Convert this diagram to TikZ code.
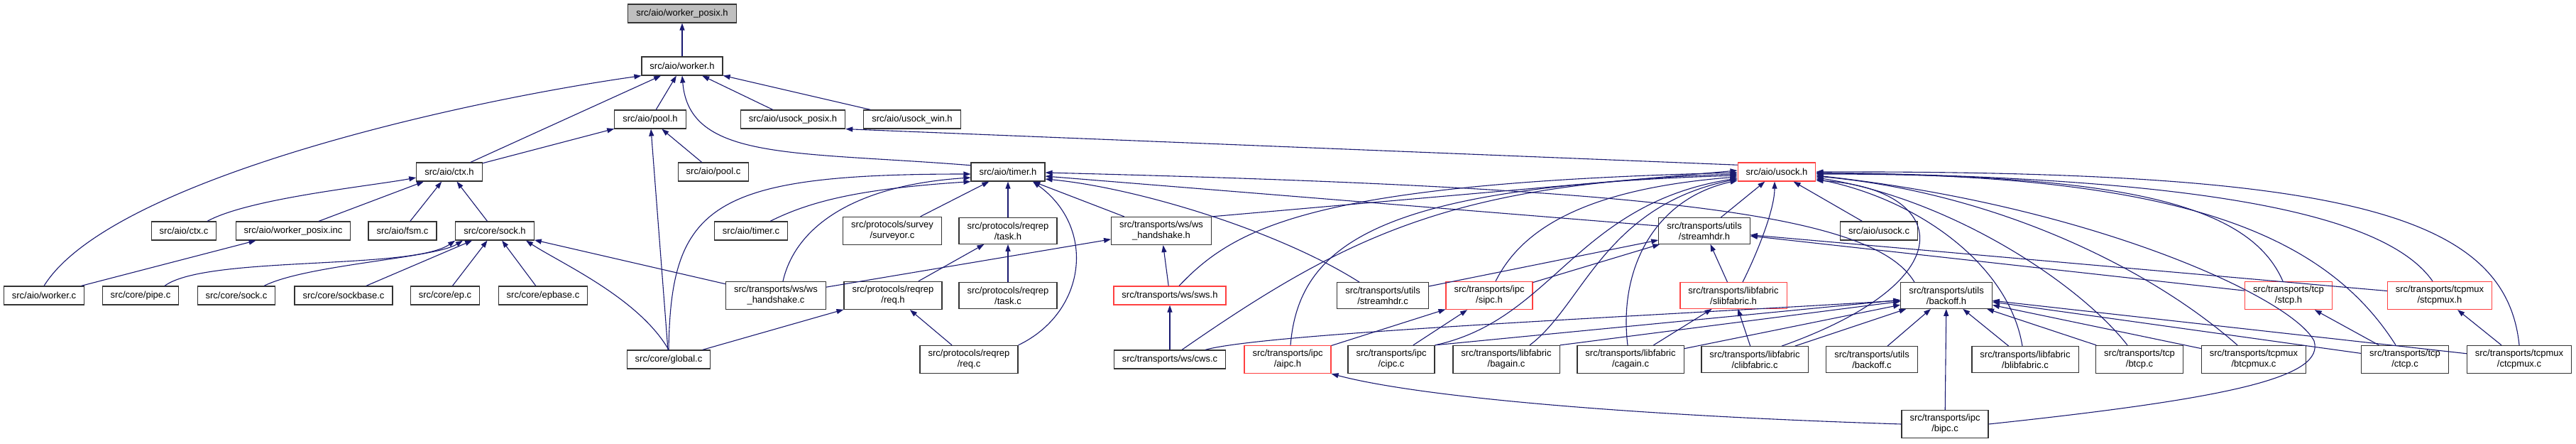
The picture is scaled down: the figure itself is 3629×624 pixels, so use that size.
\documentclass[tikz,border=0pt]{standalone}
\usepackage{fontspec}
\setmainfont{Liberation Sans}
\usetikzlibrary{arrows.meta}
\definecolor{edgeblue}{RGB}{25,25,112}
\definecolor{boxred}{RGB}{255,64,64}
\definecolor{rootgray}{RGB}{191,191,191}

\begin{document}
\begin{tikzpicture}[x=1pt,y=-1pt,
  filebox/.style={draw=black!80, line width=1.2pt, fill=white, inner xsep=11.5pt, inner ysep=6pt,
    minimum height=26pt, align=center, font=\fontsize{13}{15}\selectfont},
  redbox/.style={filebox, draw=boxred},
  rootbox/.style={filebox, fill=rootgray},
  incl/.style={edgeblue, line width=1.1pt, -{Triangle[length=10pt,width=7pt]}}]
  \useasboundingbox (0,0) rectangle (3629,624);

  %% Row 0 and 1
  \node[rootbox] (wposixh) at (961,19) {src/aio/worker\_posix.h};
  \node[filebox] (workerh) at (961,93) {src/aio/worker.h};
  %% Row 2
  \node[filebox] (poolh) at (916,168) {src/aio/pool.h};
  \node[filebox] (usockposixh) at (1117,168) {src/aio/usock\_posix.h};
  \node[filebox] (usockwinh) at (1285,168) {src/aio/usock\_win.h};
  %% Row 3
  \node[filebox] (ctxh) at (633,242) {src/aio/ctx.h};
  \node[filebox] (poolc) at (1005,242) {src/aio/pool.c};
  \node[filebox] (timerh) at (1420,242) {src/aio/timer.h};
  \node[redbox] (usockh) at (2503,242) {src/aio/usock.h};
  %% Row 4
  \node[filebox] (ctxc) at (259,325) {src/aio/ctx.c};
  \node[filebox] (wposixinc) at (413,325) {src/aio/worker\_posix.inc};
  \node[filebox] (fsmc) at (567,325) {src/aio/fsm.c};
  \node[filebox] (sockh) at (697,325) {src/core/sock.h};
  \node[filebox] (timerc) at (1058,325) {src/aio/timer.c};
  \node[filebox] (surveyorc) at (1257,325) {src/protocols/survey\\/surveyor.c};
  \node[filebox] (taskh) at (1420,325) {src/protocols/reqrep\\/task.h};
  \node[filebox] (wshandshakeh) at (1636,325) {src/transports/ws/ws\\\_handshake.h};
  \node[filebox] (streamhdrh) at (2401,325) {src/transports/utils\\/streamhdr.h};
  \node[filebox] (usockc) at (2647,325) {src/aio/usock.c};
  %% Row 5
  \node[filebox] (workerc) at (62,416) {src/aio/worker.c};
  \node[filebox] (pipec) at (198,416) {src/core/pipe.c};
  \node[filebox] (sockc) at (333,416) {src/core/sock.c};
  \node[filebox] (sockbasec) at (484,416) {src/core/sockbase.c};
  \node[filebox] (epc) at (627,416) {src/core/ep.c};
  \node[filebox] (epbasec) at (765,416) {src/core/epbase.c};
  \node[filebox] (wshandshakec) at (1093,416) {src/transports/ws/ws\\\_handshake.c};
  \node[filebox] (reqh) at (1258,416) {src/protocols/reqrep\\/req.h};
  \node[filebox] (taskc) at (1420,416) {src/protocols/reqrep\\/task.c};
  \node[redbox] (swsh) at (1648,416) {src/transports/ws/sws.h};
  \node[filebox] (streamhdrc) at (1948,416) {src/transports/utils\\/streamhdr.c};
  \node[redbox] (sipch) at (2098,416) {src/transports/ipc\\/sipc.h};
  \node[redbox] (slibfabrich) at (2442,416) {src/transports/libfabric\\/slibfabric.h};
  \node[filebox] (backoffh) at (2742,416) {src/transports/utils\\/backoff.h};
  \node[redbox] (stcph) at (3224,416) {src/transports/tcp\\/stcp.h};
  \node[redbox] (stcpmuxh) at (3437,416) {src/transports/tcpmux\\/stcpmux.h};
  %% Row 6
  \node[filebox] (globalc) at (942,506) {src/core/global.c};
  \node[filebox] (reqc) at (1365,506) {src/protocols/reqrep\\/req.c};
  \node[filebox] (cwsc) at (1648,506) {src/transports/ws/cws.c};
  \node[redbox] (aipch) at (1814,506) {src/transports/ipc\\/aipc.h};
  \node[filebox] (cipcc) at (1960,506) {src/transports/ipc\\/cipc.c};
  \node[filebox] (bagainc) at (2122,506) {src/transports/libfabric\\/bagain.c};
  \node[filebox] (cagainc) at (2297,506) {src/transports/libfabric\\/cagain.c};
  \node[filebox] (clibfabricc) at (2472,506) {src/transports/libfabric\\/clibfabric.c};
  \node[filebox] (backoffc) at (2637,506) {src/transports/utils\\/backoff.c};
  \node[filebox] (blibfabricc) at (2853,506) {src/transports/libfabric\\/blibfabric.c};
  \node[filebox] (btcpc) at (3014,506) {src/transports/tcp\\/btcp.c};
  \node[filebox] (btcpmuxc) at (3175,506) {src/transports/tcpmux\\/btcpmux.c};
  \node[filebox] (ctcpc) at (3388,506) {src/transports/tcp\\/ctcp.c};
  \node[filebox] (ctcpmuxc) at (3549,506) {src/transports/tcpmux\\/ctcpmux.c};
  %% Row 7
  \node[filebox] (bipcc) at (2740,597) {src/transports/ipc\\/bipc.c};

  %% worker.h and pool.h
  \draw[incl] (workerh) -- (wposixh);
  \draw[incl] (workerc.north) .. controls +(90,-145) and +(-280,40) .. (workerh.south west);
  \draw[incl] (ctxh) -- (workerh);
  \draw[incl] (poolh) -- (workerh);
  \draw[incl] (timerh.170) .. controls +(-250,-20) and +(10,120) .. (workerh.south);
  \draw[incl] (usockposixh) -- (workerh);
  \draw[incl] (usockwinh) -- (workerh);
  \draw[incl] (ctxh) -- (poolh);
  \draw[incl] (poolc) -- (poolh);
  \draw[incl] (globalc) -- (poolh);
  \draw[incl] (usockh.170) -- (usockposixh.south east);
  %% ctx.h
  \draw[incl] ([xshift=33pt]ctxc.north) .. controls +(58,-32) and +(-65,12) .. ([yshift=-8pt]ctxh.west);
  \draw[incl] (wposixinc) -- (ctxh);
  \draw[incl] (fsmc) -- (ctxh);
  \draw[incl] (sockh) -- (ctxh);
  \draw[incl] (workerc) -- (wposixinc);
  %% sock.h
  \draw[incl] ([xshift=34pt]pipec.north) .. controls +(58,-43) and +(-61,42) .. (sockh.south west);
  \draw[incl] ([xshift=39pt]sockc.north) .. controls +(60,-30) and +(-40,25) .. ([xshift=-45pt]sockh.south);
  \draw[incl] (sockbasec) -- (sockh);
  \draw[incl] (epc) -- (sockh);
  \draw[incl] (epbasec) -- (sockh);
  \draw[incl] (globalc.north) .. controls +(-42,-73) and +(49,32) .. ([xshift=44pt]sockh.south);
  \draw[incl] (wshandshakec) -- (sockh);
  %% timer.h
  \draw[incl] (globalc.north) .. controls +(3,-203) and +(-367,0) .. ([yshift=-3pt]timerh.west);
  \draw[incl] ([xshift=10pt]wshandshakec.north) .. controls +(17,-75) and +(-167,11) .. ([yshift=-8pt]timerh.west);
  \draw[incl] ([xshift=27pt]timerc.north) .. controls +(60,-30) and +(-150,10) .. (timerh.south west);
  \draw[incl] (surveyorc) -- (timerh);
  \draw[incl] (taskh) -- (timerh);
  \draw[incl] (reqc.north east) .. controls +(96,-46) and +(90,65) .. ([xshift=35pt]timerh.south);
  \draw[incl] (wshandshakeh) -- (timerh);
  \draw[incl] ([xshift=-33pt]streamhdrc.north) .. controls +(-115,-73) and +(127,12) .. ([yshift=-10pt]timerh.east);
  \draw[incl] ([yshift=7pt]streamhdrh.west) -- ([yshift=-6pt]timerh.east);
  \draw[incl] ([xshift=-45pt]backoffh.north) .. controls +(-57,-95) and +(877,22) .. ([yshift=-1pt]timerh.east);
  %% ws
  \draw[incl] (wshandshakec) -- (wshandshakeh);
  \draw[incl] (swsh) -- (wshandshakeh);
  \draw[incl] (wshandshakeh.north east) -- ([yshift=2pt]usockh.west);
  \draw[incl] (cwsc) -- (swsh);
  \draw[incl] ([xshift=13pt]swsh.north) .. controls +(79,-83) and +(-598,15) .. ([yshift=-1pt]usockh.west);
  \draw[incl] ([xshift=17pt]cwsc.north) .. controls +(235,-163) and +(-398,13) .. ([yshift=-3pt]usockh.west);
  \draw[incl] ([xshift=50pt]cwsc.north) .. controls +(82,-23) and +(-377,23) .. ([yshift=-7pt]backoffh.west);
  %% task.h and req.h
  \draw[incl] (reqh) -- (taskh);
  \draw[incl] (taskc) -- (taskh);
  \draw[incl] (globalc) -- (reqh);
  \draw[incl] (reqc) -- (reqh);
  %% ipc
  \draw[incl] ([xshift=4pt]aipch.north) .. controls +(12,-146) and +(-498,15) .. ([yshift=-5pt]usockh.west);
  \draw[incl] (aipch) -- (sipch);
  \draw[incl] (cipcc) -- (sipch);
  \draw[incl] ([xshift=9pt]sipch.north) .. controls +(33,-66) and +(-228,18) .. ([yshift=-7pt]usockh.west);
  \draw[incl] (cipcc.north east) .. controls +(167,-36) and +(-228,36) .. ([yshift=-9pt]usockh.west);
  \draw[incl] (cipcc.north east) -- (backoffh);
  \draw[incl] (bipcc.west) .. controls +(-379,-12) and +(125,33) .. (aipch.south east);
  %% libfabric
  \draw[incl] ([xshift=33pt]bagainc.north) .. controls +(75,-56) and +(-188,38) .. ([yshift=-10pt]usockh.west);
  \draw[incl] (bagainc.north east) -- (backoffh);
  \draw[incl] ([xshift=-4pt]cagainc.north) .. controls +(-13,-106) and +(-118,26) .. ([yshift=-12pt]usockh.west);
  \draw[incl] (cagainc) -- (slibfabrich);
  \draw[incl] (cagainc) -- (backoffh);
  \draw[incl] (clibfabricc) -- (slibfabrich);
  \draw[incl] (clibfabricc) -- (backoffh);
  \draw[incl] ([xshift=38pt]clibfabricc.north) .. controls +(270,-96) and +(181,10) .. ([yshift=-12pt]usockh.east);
  %% streamhdr.h
  \draw[incl] (slibfabrich) -- (streamhdrh);
  \draw[incl] ([xshift=13pt]slibfabrich.north) .. controls +(20,-40) and +(0,40) .. ([xshift=-3pt]usockh.south);
  \draw[incl] (streamhdrh) -- (usockh);
  \draw[incl] (usockc) -- (usockh);
  \draw[incl] (streamhdrc) -- (streamhdrh);
  \draw[incl] (sipch) -- (streamhdrh);
  \draw[incl] (stcph) -- (streamhdrh);
  \draw[incl] (stcpmuxh) -- (streamhdrh);
  %% right side of usock.h
  \draw[incl] ([xshift=-4pt]blibfabricc.north) .. controls +(-19,-116) and +(141,28) .. ([yshift=-10pt]usockh.east);
  \draw[incl] ([xshift=-17pt]btcpc.north) .. controls +(-67,-86) and +(191,30) .. ([yshift=-8pt]usockh.east);
  \draw[incl] ([xshift=-23pt]btcpmuxc.north) .. controls +(-132,-116) and +(241,22) .. ([yshift=-6pt]usockh.east);
  \draw[incl] (bipcc.east) .. controls (3150,560) and (3275,530) .. (3260,480)
    .. controls (3230,420) and (2950,290) .. ([yshift=-5pt]usockh.east);
  \draw[incl] ([xshift=-8pt]stcph.north) .. controls +(-46,-106) and +(441,0) .. ([yshift=-3pt]usockh.east);
  \draw[incl] ([xshift=-13pt]ctcpc.north) .. controls +(-105,-166) and +(491,1) .. ([yshift=-2pt]usockh.east);
  \draw[incl] ([xshift=-10pt]stcpmuxh.north) .. controls +(-67,-96) and +(541,7) .. ([yshift=-1pt]usockh.east);
  \draw[incl] (ctcpmuxc.north) .. controls +(-19,-186) and +(741,-2) .. (usockh.east);
  %% backoff.h
  \draw[incl] (backoffc) -- (backoffh);
  \draw[incl] (blibfabricc) -- (backoffh);
  \draw[incl] (btcpc) -- (backoffh);
  \draw[incl] (btcpmuxc) -- (backoffh);
  \draw[incl] (ctcpc) -- (backoffh);
  \draw[incl] (ctcpmuxc) -- (backoffh);
  \draw[incl] (bipcc) -- (backoffh);
  \draw[incl] (ctcpc) -- (stcph);
  \draw[incl] (ctcpmuxc) -- (stcpmuxh);
\end{tikzpicture}
\end{document}
